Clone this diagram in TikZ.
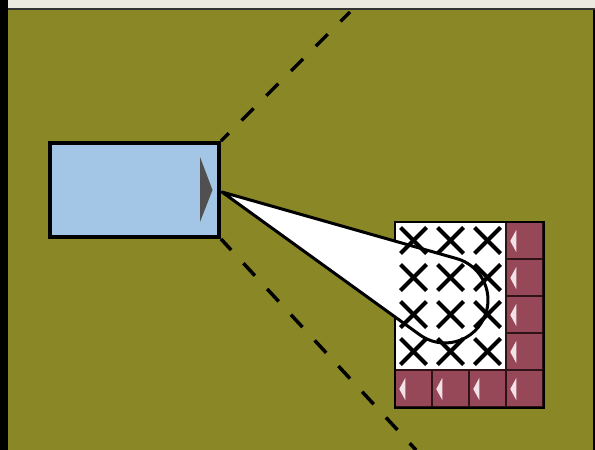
\documentclass[tikz,border=0pt]{standalone}
\usetikzlibrary{calc}
\definecolor{olivefield}{RGB}{138,135,38}
\definecolor{topband}{RGB}{236,233,225}
\definecolor{camblue}{RGB}{163,198,230}
\definecolor{brick}{RGB}{150,72,88}
\definecolor{brickline}{RGB}{45,18,24}
\definecolor{tipgray}{RGB}{80,80,80}
\definecolor{tiplight}{RGB}{242,225,230}
\tikzset{
  campos/.style={draw=black, line width=4pt, fill=camblue, minimum width=169pt, minimum height=94pt, inner sep=0pt},
  sightline/.style={draw=black, line width=3.5pt, dash pattern=on 17pt off 18pt},
  conebeam/.style={draw=black, fill=white, line width=3pt, line join=round},
  fieldarea/.style={fill=white, minimum width=111pt, minimum height=148pt, inner sep=0pt},
  brickcell/.style={draw=brickline, fill=brick, line width=1.5pt, minimum size=37pt, inner sep=0pt},
  crossmark/.style={draw=black, line width=4pt},
}
\begin{document}
\begin{tikzpicture}[x=1pt,y=-1pt]
\useasboundingbox (0,0) rectangle (595,450);
% background
\fill[olivefield] (0,0) rectangle (595,450);
\fill[topband] (0,0) rectangle (595,8.5);
\draw[black!80, line width=1.5pt] (0,9.2) -- (595,9.2);
\fill[black] (0,0) rectangle (7.5,450);
\fill[black] (592.5,10) rectangle (595,450);
% camera box
\node[campos] (cam) at (134.5,190) {};
\fill[tipgray] (200,157) -- (212.5,190) -- (200,222) -- cycle;
% sight lines
\coordinate (ftop) at (350,12);
\coordinate (fbot) at (416,450);
\draw[sightline, dash phase=6pt] (cam.north east) -- (ftop);
\draw[sightline, dash phase=2pt] (cam.south east) -- (fbot);
% field grid
\node[fieldarea] (field) at (450.5,296) {};
\foreach \j in {0,...,4} {
  \node[brickcell] (rc\j) at (524.5,{240.5+37*\j}) {};
  \fill[tiplight] ($(rc\j.west)+(5,0.5)$) -- ++(6,-11) -- ++(0,22) -- cycle;
}
\foreach \i in {0,...,2} {
  \node[brickcell] (bc\i) at ({413.5+37*\i},388.5) {};
  \fill[tiplight] ($(bc\i.west)+(5,0.5)$) -- ++(6,-11) -- ++(0,22) -- cycle;
}
\draw[black, line width=2.5pt] (field.north west) rectangle (rc4.south east);
% beam cone
\coordinate (apex) at (222,192);
\draw[conebeam] (apex) -- (456.7,258.6) arc[start angle=-74.2, end angle=125.8, radius=43] -- cycle;
% crosses
\foreach \i in {0,...,2} {
  \foreach \j in {0,...,3} {
    \coordinate (x\i\j) at ({413.5+37*\i},{240.5+37*\j});
    \draw[crossmark] ($(x\i\j)+(-13,-13)$) -- ($(x\i\j)+(13,13)$);
    \draw[crossmark] ($(x\i\j)+(-13,13)$) -- ($(x\i\j)+(13,-13)$);
  }
}
\end{tikzpicture}
\end{document}
